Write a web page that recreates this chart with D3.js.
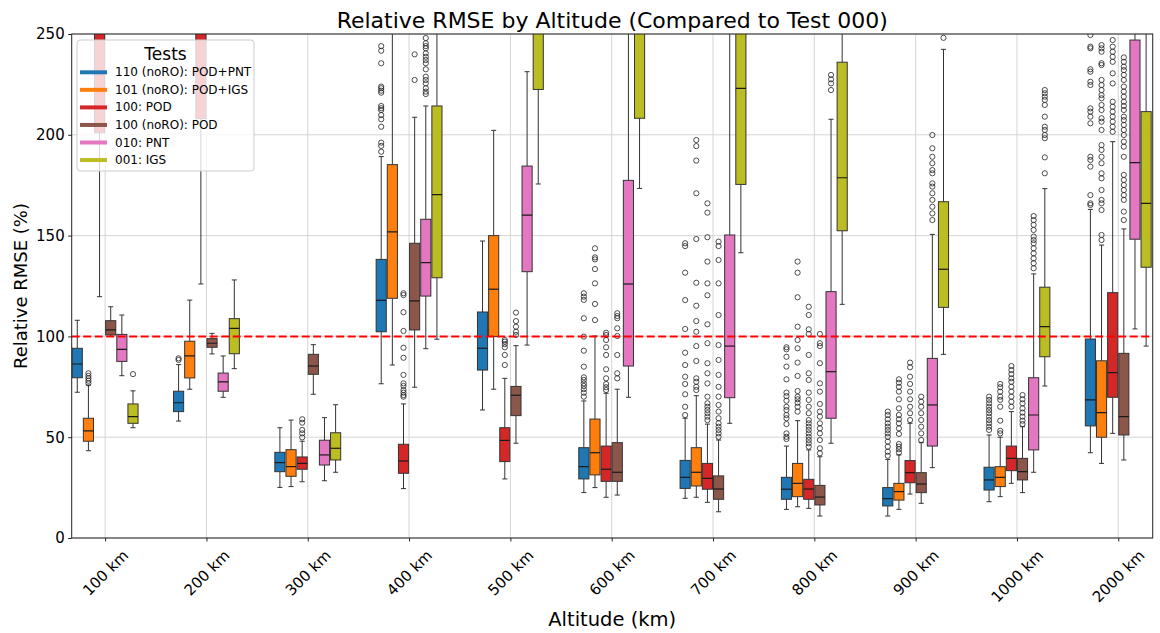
<!DOCTYPE html>
<html>
<head>
<meta charset="utf-8">
<script src="https://cdn.jsdelivr.net/npm/d3@7"></script>
<style>
  body { margin: 0; background: #fff; }
  svg { display: block; font-family: "DejaVu Sans", sans-serif; }
</style>
</head>
<body>
<svg id="chart" width="1160" height="633"></svg>
<script>
// ---- data -------------------------------------------------------------
const altitudes = ["100 km", "200 km", "300 km", "400 km", "500 km", "600 km",
                   "700 km", "800 km", "900 km", "1000 km", "2000 km"];

const seriesNames = ["110 (noRO): POD+PNT", "101 (noRO): POD+IGS", "100: POD",
                     "100 (noRO): POD", "010: PNT", "001: IGS"];
const seriesColors = ["#1f77b4", "#ff7f0e", "#d62728", "#8c564b", "#e377c2", "#bcbd22"];

// box statistics per altitude: [lower whisker, Q1, median, Q3, upper whisker]
const box110 = [[72.3, 79.5, 86.3, 94.1, 108], [58, 62.7, 67.1, 72.8, 86], [25.1, 32.9, 37.4, 42.5, 54.7],
  [76.5, 102.3, 117.9, 138.2, 189.2], [63.5, 83.3, 94.1, 112.1, 147.3], [22.5, 29.3, 35.4, 44.8, 68],
  [19.7, 24.6, 30.1, 38.5, 59.4], [14.2, 19.2, 24.2, 30.1, 45.6], [10.9, 15.9, 19.5, 25, 39],
  [18, 23.8, 28.8, 35.1, 51.1], [42.3, 55.6, 68.5, 98.7, 163]];
const out110 = [[], [88.3, 89.1], [],
  [244, 241.7, 235.5, 223.9, 223.1, 221.9, 220.9, 214.3, 213.2, 212.3, 209.8, 207.7, 204, 196.1, 194.5, 191.6],
  [],
  [121.4, 119.7, 118.1, 109, 99.9, 92.9, 85, 79.7, 78.4, 76.7, 75.4, 73.8, 72.1, 70.1],
  [146.2, 144.8, 131.6, 118, 103.7, 91.9, 85.8, 80, 76.4, 71.3, 65.1, 61],
  [94.6, 93.6, 89.9, 85, 78.7, 72.1, 70.4, 68.1, 65.1, 63.5, 61, 59.4, 56.5, 51.9, 50.2, 49.1],
  [62.7, 61, 58.9, 56.9, 55.2, 53.6, 51.9, 50.2, 47.8, 45.3, 42.8, 40.8],
  [70.1, 68.5, 66.8, 65.1, 63.5, 61.9, 60.2, 58.5, 56.9, 55.2, 53.6],
  [249.5, 243.7, 242.9, 232.5, 231.3, 226.3, 224.7, 213.1, 211.5, 209, 205.7, 189.1, 187.5, 184.2, 170.1, 166, 165.2]];

const box101 = [[43.3, 48, 53.1, 59.4, 75.9], [73.8, 79.4, 90.3, 97.6, 118], [25.5, 30.6, 35.4, 43.8, 58.5],
  [85.8, 118.9, 151.8, 185.2, 270], [73.8, 99.9, 123.4, 150, 202.2], [25, 31.3, 42.3, 59, 100.2],
  [20.2, 25.8, 32.6, 44.8, 70.6], [15.5, 20.5, 27.1, 37, 58.2], [14.2, 18.8, 23, 27.1, 41.2],
  [20.5, 25.5, 30.1, 35.4, 50], [37, 50, 62.2, 87.9, 145.3]];
const out101 = [[81.7, 80.4, 79.2, 78, 76.7], [], [], [], [],
  [143.7, 139.2, 138.2, 133.4, 126.3, 116.1, 108.1],
  [197.4, 194.4, 187.2, 171, 148.3, 126.6, 115.2, 107.6, 102.3, 95.2, 87.8, 79.2, 77.5, 75, 73.4],
  [137.1, 131.6, 119.4, 104.8, 98.2, 94.1, 87, 80.4, 72.9, 70.1, 68.8, 67.1, 65.1, 62.7],
  [78.7, 77, 75, 72.6, 68.8, 64.3, 61, 58.9, 56.9, 54.4, 51.6, 46.6, 45.3, 44, 42.4],
  [76.4, 74.8, 72.6, 70.1, 68.5, 65.1, 58.2, 53.2, 51.9],
  [244.5, 242.9, 241.2, 235.5, 234.6, 227.2, 224.7, 222.2, 219.7, 218.1, 214.8, 212.3, 208.2, 206.5, 202.4,
   194.9, 192.5, 189.1, 185.9, 180.9, 178.4, 172.6, 167.7, 166, 162.7, 150.3, 147.8]];

const box100 = [[119.7, 201, 265, 290, 320], [126, 208, 265, 290, 320], [27.9, 34.1, 37, 40.2, 48],
  [24.5, 32.1, 38.2, 46.5, 66.5], [29.3, 37.9, 48.4, 54.7, 79.2], [20.2, 28.1, 34.1, 45.6, 71.8],
  [17.7, 24.2, 29.6, 37, 56.5], [14.7, 19.2, 24.3, 29.1, 43.7], [21.8, 27.4, 32.4, 38.4, 56.9],
  [27.1, 33.4, 39.5, 45.6, 62.7], [51.9, 69.8, 82, 121.7, 196.6]];
const out100 = [[], [], [58.9, 57.2, 53.6, 51.9, 49.9],
  [121.4, 120.5, 112, 102.7, 94.4, 89.4, 80.9, 76.7, 75.4, 73.4, 72.1, 70.9, 70.1],
  [98.2, 97.4, 96.2, 94.6, 90.8, 85.8],
  [101.8, 100.7, 98.2, 94.6, 90.8, 83.7, 79.2, 76.4, 74.8, 73.4],
  [166, 161.4, 149.2, 137.1, 126.3, 120.4, 106, 96.6, 86.7, 81.7, 76.7, 70.1, 66.8, 65.1, 63.5, 61.9, 60.2, 58.5],
  [114.7, 110.6, 103.5, 101.2, 90.8, 81.7, 78.4, 72.1, 68.5, 65.1, 61.9, 58.5, 56.9, 55.2, 53.6, 51.9, 50.2, 48.6, 47, 45.3],
  [87, 84.7, 80, 76.4, 72.6, 68.8, 65.1, 61.9, 58.5],
  [85.3, 83.3, 81.3, 79.2, 77.5, 75, 72.6, 70.1, 67.6, 65.1],
  [247, 243.7, 241.2, 238.7, 236.2, 230.5, 225.5, 216.4, 213.9, 211.5, 209, 206.5, 204, 201.5]];

const box100noRO = [[100, 100.7, 103.2, 107.8, 114.7], [91.3, 94.6, 96.6, 98.9, 101.5], [71.3, 81.2, 85.3, 91.1, 95.9],
  [74.8, 103.2, 117.6, 146.2, 208.7], [47, 60.7, 70.8, 75.2, 95.4], [21.3, 28.1, 32.6, 47.3, 73.8],
  [13, 19.2, 24.3, 30.8, 48.6], [10.9, 16.4, 20.3, 26.1, 40.3], [17.2, 22.5, 26.8, 32.4, 47.3],
  [22.5, 28.8, 32.9, 39.5, 55.2], [38.7, 51.1, 60.2, 91.6, 153.3]];
const out100noRO = [[], [], [], [239.9, 227.2],
  [111.8, 107.6, 104.8, 102.3, 100.7],
  [111.5, 110.1, 109, 104, 100.2, 90.8, 81.7, 79.2],
  [147, 144.8, 137.9, 126.3, 110.6, 95.7, 88.3, 80.9, 75, 70.1, 66, 62.7, 59.4, 56.9, 55.2, 53.6, 51.9, 50.2],
  [101.2, 96.6, 95.2, 86.7, 76.7, 72.6, 66.5, 62.7, 60.2, 56.9, 54.4, 51.9, 48.6, 44.5, 42],
  [70.1, 67.6, 65.1, 61.9, 58.5, 55.2, 51.9, 48.6],
  [70.9, 68.8, 66.8, 64.3, 62.2, 60.2, 58.2, 56.5],
  [238.4, 236.2, 233.8, 232.1, 229.7, 227.2, 223.9, 221.4, 218.9, 216.4, 214.3, 212.3, 209, 207.3, 204.9,
   202.4, 199.9, 196.6, 194.1, 189.1, 180.1, 177.6, 175.1, 172.6, 170.1, 167.7, 161.9, 157.7]];

const box010 = [[80.5, 87.6, 93.6, 101, 110.6], [69.8, 72.8, 77.4, 81.8, 90.3], [28.4, 36.2, 41.2, 48.5, 59.7],
  [93.9, 120, 136.6, 158.1, 214.3], [95.7, 132.1, 160.2, 184.5, 231.3], [69.8, 85.3, 126, 177.4, 270],
  [56.9, 69.6, 95.2, 150.3, 270], [47, 59.4, 82.5, 122.2, 207.7], [34.9, 45.6, 66, 89.1, 150.6],
  [32.6, 43.7, 61, 79.5, 131], [103.7, 148.2, 186.2, 247, 270]];
const out010 = [[], [], [],
  [248, 245.4, 244, 242.9, 240.4, 238.7, 237.1, 235.5, 232.5, 228.8, 227.2, 225.5, 223.1, 221.4, 220.2],
  [], [], [],
  [229.7, 227.5, 225.5, 222.2],
  [199.9, 193.3, 189.1, 185.9, 182.5, 180.9, 175.9, 174.3, 171, 167.7, 164.3, 161, 157.7],
  [159.7, 157.7, 155.3, 152.8, 149.5, 147.8, 146.2, 143.7, 141.2, 138.7, 136.3, 133.8],
  []];

const box001 = [[54.7, 56.9, 60.2, 66.5, 73], [84, 91.4, 104, 108.8, 128], [32.6, 38.7, 44.5, 52.2, 66.1],
  [98.6, 129.1, 170.3, 214.3, 280], [175.6, 222.5, 265, 300, 350], [173.4, 208.2, 265, 300, 350],
  [141.5, 175.4, 223, 270, 330], [115.9, 152.4, 178.7, 236, 300], [91.1, 114.4, 133.3, 166.8, 242.4],
  [75.4, 89.9, 104.8, 124.4, 173.3], [95.2, 134.3, 166, 211.5, 280]];
const out001 = [[81.3], [], [], [], [], [], [], [], [248.1],
  [222.2, 220.6, 218.9, 217.3, 214.8, 209, 204, 202.4, 199.9, 198.3, 188.8, 180.9],
  []];

const yTicks = [0, 50, 100, 150, 200, 250];
const referenceLevel = 100;   // Test 000 baseline

// ---- layout -------------------------------------------------------------
const series = [
  { name: seriesNames[0], color: seriesColors[0], boxes: box110, outliers: out110 },
  { name: seriesNames[1], color: seriesColors[1], boxes: box101, outliers: out101 },
  { name: seriesNames[2], color: seriesColors[2], boxes: box100, outliers: out100 },
  { name: seriesNames[3], color: seriesColors[3], boxes: box100noRO, outliers: out100noRO },
  { name: seriesNames[4], color: seriesColors[4], boxes: box010, outliers: out010 },
  { name: seriesNames[5], color: seriesColors[5], boxes: box001, outliers: out001 }
];

const plot = { left: 71.7, right: 1152.7, top: 34, bottom: 538 };
const boxWidth = 0.1, groupStep = 0.11;

const svg = d3.select("#chart");
const x = d3.scaleLinear().domain([0.67, 11.34]).range([plot.left, plot.right]);
const y = d3.scaleLinear().domain([0, 250]).range([plot.bottom, plot.top]);
const positions = altitudes.map((_, i) => i + 1);

svg.append("defs").append("clipPath").attr("id", "plot-clip")
  .append("rect")
  .attr("x", plot.left).attr("y", plot.top)
  .attr("width", plot.right - plot.left).attr("height", plot.bottom - plot.top);

// grid
const grid = svg.append("g").attr("stroke", "#d4d4d4").attr("stroke-width", 1);
grid.selectAll("line.h").data(yTicks).join("line")
  .attr("x1", plot.left).attr("x2", plot.right)
  .attr("y1", d => y(d)).attr("y2", d => y(d));
grid.selectAll("line.v").data(positions).join("line")
  .attr("x1", d => x(d)).attr("x2", d => x(d))
  .attr("y1", plot.top).attr("y2", plot.bottom);

// boxes
const marks = svg.append("g").attr("clip-path", "url(#plot-clip)");
series.forEach((s, j) => {
  const off = (j - 2.5) * groupStep;
  const g = marks.append("g");
  s.boxes.forEach((b, i) => {
    const p = positions[i] + off;
    const cx = x(p);
    const [lo, q1, med, q3, hi] = b;
    const capHalf = (x(p + boxWidth / 4) - cx);
    // whiskers
    g.append("line").attr("x1", cx).attr("x2", cx).attr("y1", y(lo)).attr("y2", y(q1))
      .attr("stroke", "#333").attr("stroke-width", 1);
    g.append("line").attr("x1", cx).attr("x2", cx).attr("y1", y(q3)).attr("y2", y(hi))
      .attr("stroke", "#333").attr("stroke-width", 1);
    // caps
    [lo, hi].forEach(v => g.append("line")
      .attr("x1", cx - capHalf).attr("x2", cx + capHalf).attr("y1", y(v)).attr("y2", y(v))
      .attr("stroke", "#333").attr("stroke-width", 1));
    // box
    g.append("rect")
      .attr("x", x(p - boxWidth / 2)).attr("width", x(p + boxWidth / 2) - x(p - boxWidth / 2))
      .attr("y", y(q3)).attr("height", y(q1) - y(q3))
      .attr("fill", s.color).attr("stroke", "#333").attr("stroke-width", 1);
    // median
    g.append("line")
      .attr("x1", x(p - boxWidth / 2)).attr("x2", x(p + boxWidth / 2))
      .attr("y1", y(med)).attr("y2", y(med))
      .attr("stroke", "#1a1a1a").attr("stroke-width", 1.2);
    // fliers
    g.selectAll(null).data(s.outliers[i]).join("circle")
      .attr("cx", cx).attr("cy", d => y(d)).attr("r", 2.6)
      .attr("fill", "none").attr("stroke", "#222").attr("stroke-width", 0.8);
  });
});

// reference line at 100 %
svg.append("line")
  .attr("x1", plot.left).attr("x2", plot.right)
  .attr("y1", y(referenceLevel)).attr("y2", y(referenceLevel))
  .attr("stroke", "#ff0000").attr("stroke-width", 2).attr("stroke-dasharray", "8,3.5");

// frame
svg.append("rect")
  .attr("x", plot.left).attr("y", plot.top)
  .attr("width", plot.right - plot.left).attr("height", plot.bottom - plot.top)
  .attr("fill", "none").attr("stroke", "#222").attr("stroke-width", 1);

// y axis
const yAxis = svg.append("g").attr("transform", `translate(${plot.left},0)`)
  .call(d3.axisLeft(y).tickValues(yTicks).tickSize(3.5).tickPadding(3.5));
yAxis.select(".domain").remove();
yAxis.selectAll("text").attr("font-size", 15).attr("fill", "#000").attr("font-family", "DejaVu Sans");
yAxis.selectAll(".tick line").attr("stroke", "#222");

// x axis
const xAxis = svg.append("g").attr("transform", `translate(0,${plot.bottom})`)
  .call(d3.axisBottom(x).tickValues(positions).tickFormat(d => altitudes[d - 1]).tickSize(3.5));
xAxis.select(".domain").remove();
xAxis.selectAll(".tick line").attr("stroke", "#222");
xAxis.selectAll("text")
  .attr("font-size", 15).attr("fill", "#000").attr("font-family", "DejaVu Sans")
  .attr("text-anchor", "middle").attr("dy", null).attr("y", null)
  .attr("dominant-baseline", "central")
  .each(function () {
    const w = this.getComputedTextLength();
    const h = 15 * 1.1;
    const off = (w + h) / (2 * Math.SQRT2);
    d3.select(this).attr("transform", `translate(0,${9 + off}) rotate(-45)`);
  });

// titles
svg.append("text").attr("x", (plot.left + plot.right) / 2).attr("y", 28)
  .attr("text-anchor", "middle").attr("font-size", 22)
  .text("Relative RMSE by Altitude (Compared to Test 000)");
svg.append("text").attr("x", (plot.left + plot.right) / 2).attr("y", 626)
  .attr("text-anchor", "middle").attr("font-size", 19.5)
  .text("Altitude (km)");
svg.append("text")
  .attr("transform", `translate(27,${(plot.top + plot.bottom) / 2}) rotate(-90)`)
  .attr("text-anchor", "middle").attr("font-size", 18)
  .text("Relative RMSE (%)");

// legend
const legend = svg.append("g").attr("transform", "translate(77,40)");
legend.append("rect").attr("width", 177).attr("height", 131).attr("rx", 3)
  .attr("fill", "#fff").attr("fill-opacity", 0.8).attr("stroke", "#ccc").attr("stroke-width", 1);
legend.append("text").attr("x", 88.5).attr("y", 19.5).attr("text-anchor", "middle")
  .attr("font-size", 17).text("Tests");
const rows = legend.selectAll("g.row").data(series).join("g")
  .attr("transform", (d, i) => `translate(0,${32.3 + i * 17.55})`);
rows.append("line").attr("x1", 3).attr("x2", 30).attr("y1", 0).attr("y2", 0)
  .attr("stroke", d => d.color).attr("stroke-width", 4);
rows.append("text").attr("x", 38).attr("y", 0).attr("dominant-baseline", "central")
  .attr("font-size", 12).text(d => d.name);
</script>
</body>
</html>
